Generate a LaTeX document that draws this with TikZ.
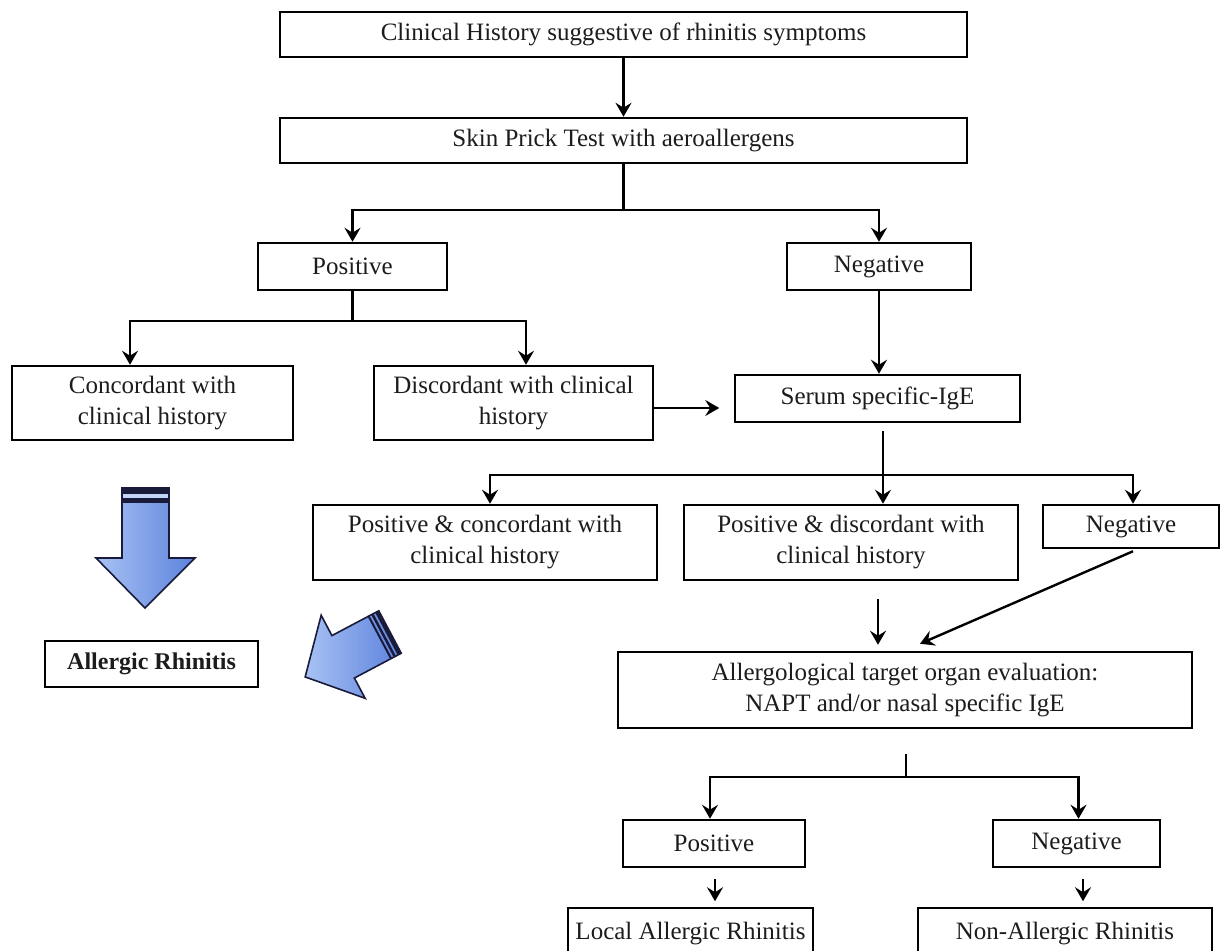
\documentclass[tikz,border=0pt]{standalone}
\usepackage{fontspec}
\setmainfont{Liberation Serif}
\usetikzlibrary{arrows.meta}
\definecolor{txt}{HTML}{1C1C1C}
\definecolor{navy}{HTML}{1A1A3A}
\definecolor{bluelight}{HTML}{A8C2F4}
\definecolor{bluedark}{HTML}{5C82DC}
\tikzset{
  box/.style={draw=black, line width=2.5pt, fill=white, inner sep=2pt, align=center,
    text=txt, font=\fontsize{25}{31}\selectfont},
  arr/.style={line width=2.4pt, -{Stealth[length=14pt,width=16pt,inset=5pt]}},
  ln/.style={line width=2.4pt},
  blockarrow/.style={draw=navy, line width=1.6pt, line join=miter, left color=bluelight, right color=bluedark}
}
\begin{document}
\begin{tikzpicture}[x=1pt,y=-1pt]
\useasboundingbox (0,0) rectangle (1222,950);
\fill[white] (0,0) rectangle (1222,950);

% nodes
\node[box, minimum width=687, minimum height=45] (clin) at (623.5,34.5) {Clinical History suggestive of rhinitis symptoms};
\node[box, minimum width=687, minimum height=45] (skin) at (623.5,140.5) {Skin Prick Test with aeroallergens};
\node[box, minimum width=189, minimum height=47] (pos) at (352.5,266.5) {Positive};
\node[box, minimum width=184, minimum height=47] (neg) at (879,266.5) {Negative};
\node[box, minimum width=281, minimum height=74] (conc) at (152.5,403) {Concordant with\\clinical history};
\node[box, minimum width=279, minimum height=74] (disc) at (513.5,403) {Discordant with clinical\\history};
\node[box, minimum width=285, minimum height=47] (serum) at (877.5,398.5) {Serum specific-IgE};
\node[box, minimum width=344, minimum height=75] (pconc) at (485,542.5) {Positive \& concordant with\\clinical history};
\node[box, minimum width=334, minimum height=75] (pdisc) at (851,542.5) {Positive \& discordant with\\clinical history};
\node[box, minimum width=176, minimum height=43] (neg2) at (1131,526.5) {Negative};
\node[box, minimum width=574, minimum height=76] (atoe) at (905,690) {Allergological target organ evaluation:\\NAPT and/or nasal specific IgE};
\node[box, minimum width=182, minimum height=47] (pos3) at (714,843.5) {Positive};
\node[box, minimum width=167, minimum height=47] (neg3) at (1076.5,843.5) {Negative};
\node[box, minimum width=245, minimum height=52] (lar) at (690.5,934) {Local Allergic Rhinitis};
\node[box, minimum width=294, minimum height=52] (nar) at (1065,934) {Non-Allergic Rhinitis};
\node[box, minimum width=213, minimum height=46, font=\fontsize{24}{30}\selectfont\bfseries] (ar) at (151.5,664) {Allergic Rhinitis};

% connectors
\draw[arr] (clin.south) -- (skin.north);
\coordinate (j1) at (623.5,210);
\draw[ln] (skin.south) -- (j1);
\draw[arr] (j1) -| (pos.north);
\draw[arr] (j1) -| (neg.north);

\coordinate (j2) at (352.5,321);
\draw[ln] (pos.south) -- (j2);
\draw[arr] (j2) -| ([xshift=-22.5pt]conc.north);
\draw[arr] (j2) -| ([xshift=12.5pt]disc.north);

\draw[arr] ([yshift=-5pt]disc.east) -- ++(65,0);
\draw[arr] (neg.south) -- (neg.south |- serum.north);

\coordinate (j3) at (883,475);
\draw[ln] ([yshift=-8pt]serum.south -| j3) -- (j3);
\draw[arr] (j3) -| ([xshift=5pt]pconc.north);
\draw[arr] (j3) -- (j3 |- pdisc.north);
\draw[arr] (j3) -| ([xshift=2pt]neg2.north);

\draw[arr] ([xshift=27pt,yshift=-18pt]pdisc.south) -- ([xshift=-27pt,yshift=6pt]atoe.north);
\draw[arr] ([xshift=2pt,yshift=-2pt]neg2.south) -- ([xshift=15pt,yshift=7pt]atoe.north);

\coordinate (j4) at (906,777);
\draw[ln] ([yshift=-25pt]atoe.south -| j4) -- (j4);
\draw[arr] (j4) -| ([xshift=-4pt]pos3.north);
\draw[arr] (j4) -| ([xshift=2pt]neg3.north);

\draw[arr] ([xshift=1pt,yshift=-11pt]pos3.south) -- ++(0,22);
\draw[arr] ([xshift=6.5pt,yshift=-11pt]neg3.south) -- ++(0,22);

% block arrow down
\path[blockarrow] (122,488) -- (169,488) -- (169,558) -- (195,558) -- (145,608) -- (96,558) -- (122,558) -- cycle;
\fill[navy] (122,488) rectangle (169,503);
\fill[bluelight!70!white] (123,493.5) rectangle (168,497.5);

% block arrow diagonal
\begin{scope}[shift={(390,632)}, rotate=207.9]
\path[blockarrow] (0,-24) -- (53,-24) -- (53,-47) -- (96,0) -- (53,47) -- (53,24) -- (0,24) -- cycle;
\fill[navy] (0,-24) rectangle (4,24);
\fill[navy] (6,-24) rectangle (8.5,24);
\fill[navy] (10.5,-24) rectangle (12.5,24);
\end{scope}
\end{tikzpicture}
\end{document}
